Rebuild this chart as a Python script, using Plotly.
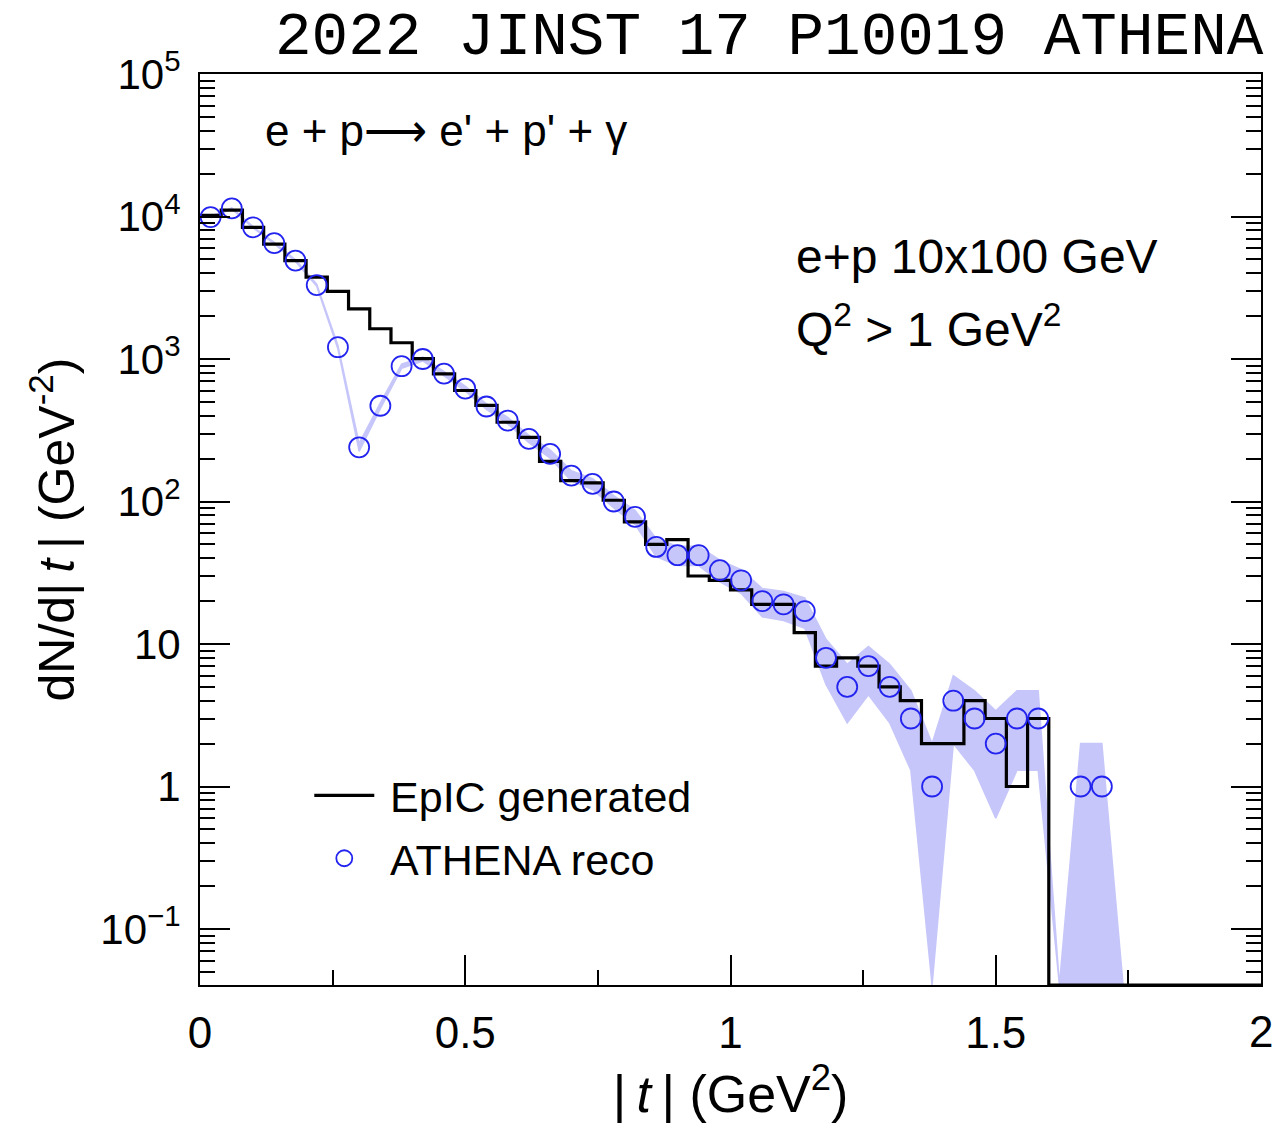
import numpy as np
import plotly.graph_objects as go

# |t| binning: 50 bins of 0.04 GeV^2 from 0 to 2
t_edges = np.round(np.linspace(0.0, 2.0, 51), 2)
t_centers = np.round(0.5 * (t_edges[:-1] + t_edges[1:]), 2)

# EpIC generated counts per bin
gen_counts = [10200, 11100, 8400, 6400, 4900, 3750, 2980, 2250, 1630, 1300,
              1005, 787, 601, 472, 360, 282, 191, 140, 135, 102,
              72, 50, 54, 30, 28, 24, 19, 19, 12, 7,
              8, 7, 5, 4, 2, 2, 4, 3, 1, 3,
              0, 0, 0, 0, 0, 0, 0, 0, 0, 0]

# ATHENA reconstructed counts per bin
reco_counts = [9900, 11400, 8400, 6500, 4900, 3300, 1210, 240, 470, 890,
               1000, 790, 620, 464, 370, 275, 216, 152, 133, 100,
               78, 48, 42, 42, 33, 28, 20, 19, 17, 8,
               5, 7, 5, 3, 1, 4, 3, 2, 3, 3,
               0, 1, 1, 0, 0, 0, 0, 0, 0, 0]

# statistical uncertainty on the reconstructed counts
reco_err = [99, 107, 92, 81, 70, 57, 35, 15.5, 21.7, 29.8,
            31.6, 28.1, 24.9, 21.5, 19.2, 16.6, 14.7, 12.3, 11.5, 10.0,
            8.8, 6.9, 6.5, 6.5, 5.7, 5.3, 4.5, 4.4, 4.1, 2.8,
            2.2, 2.6, 2.2, 1.7, 1.0, 2.0, 1.7, 1.4, 1.7, 1.7,
            0, 1.0, 1.0, 0, 0, 0, 0, 0, 0, 0]

y_ticks = [0.1, 1, 10, 100, 1e3, 1e4, 1e5]
y_tick_text = ["10<sup>\u22121</sup>", "1", "10", "10<sup>2</sup>",
               "10<sup>3</sup>", "10<sup>4</sup>", "10<sup>5</sup>"]
x_ticks = [0, 0.5, 1, 1.5, 2]
x_tick_text = ["0", "0.5", "1", "1.5", "2"]

LOG_YMIN, LOG_YMAX = -1.393, 5.0
Y_FLOOR = 10 ** LOG_YMIN   # empty bins sit on the frame bottom

gen = np.array(gen_counts, dtype=float)
reco = np.array(reco_counts, dtype=float)
err = np.array(reco_err, dtype=float)

# uncertainty band (drawn through bin centres)
band_hi = np.maximum(reco + err, Y_FLOOR)
band_lo = np.where(reco - err > 0, reco - err, Y_FLOOR)
band_lo = np.maximum(band_lo, Y_FLOOR)

BAND = "rgb(198,198,250)"
BLUE = "rgb(35,35,240)"
FONT = "Liberation Sans, Arial, sans-serif"
TS = "\u2009"  # thin space around the italic t

fig = go.Figure()

fig.add_trace(go.Scatter(
    x=np.concatenate([t_centers, t_centers[::-1]]),
    y=np.concatenate([band_hi, band_lo[::-1]]),
    fill="toself", fillcolor=BAND, mode="lines",
    line=dict(color=BAND, width=1.5),
    showlegend=False, hoverinfo="skip"))

gen_step = np.maximum(np.append(gen, gen[-1]), Y_FLOOR)
fig.add_trace(go.Scatter(
    x=t_edges, y=gen_step, mode="lines", line_shape="hv",
    line=dict(color="black", width=3.2),
    name="\u2005EpIC generated", legendgroup="gen"))

mask = reco > 0
fig.add_trace(go.Scatter(
    x=t_centers[mask], y=reco[mask], mode="markers",
    marker=dict(symbol="circle-open", size=20, color=BLUE,
                line=dict(width=1.8, color=BLUE)),
    name="\u2005ATHENA reco", legendgroup="reco"))

minor_y = [m * 10.0 ** e for e in range(-2, 5) for m in range(2, 10)
           if LOG_YMIN < np.log10(m * 10.0 ** e) < LOG_YMAX]

fig.update_layout(
    width=1272, height=1131,
    margin=dict(l=200, r=9, t=74, b=146),
    paper_bgcolor="white", plot_bgcolor="white",
    font=dict(family=FONT, color="black", size=40),
    legend=dict(x=0.103, y=0.246, xanchor="left", yanchor="top",
                bgcolor="rgba(0,0,0,0)", font=dict(size=43),
                itemwidth=60, tracegroupgap=4, traceorder="grouped"),
    xaxis=dict(range=[0, 2], tickvals=x_ticks, ticktext=x_tick_text,
               ticks="inside", ticklen=30, tickwidth=2, tickcolor="black",
               minor=dict(tickvals=[0.25, 0.75, 1.25, 1.75], ticks="inside",
                          ticklen=15, tickwidth=2, tickcolor="black"),
               showline=True, linewidth=2, linecolor="black", mirror=True,
               showgrid=False, zeroline=False,
               tickfont=dict(size=44), ticklabelstandoff=8,
               title=dict(text="|" + TS + "<i>t</i>" + TS + "| (GeV<sup>2</sup>)",
                          font=dict(size=52), standoff=14)),
    yaxis=dict(type="log", range=[LOG_YMIN, LOG_YMAX],
               tickvals=y_ticks, ticktext=y_tick_text,
               ticks="inside", ticklen=30, tickwidth=2, tickcolor="black",
               minor=dict(tickvals=minor_y, ticks="inside", ticklen=15,
                          tickwidth=2, tickcolor="black"),
               showline=True, linewidth=2, linecolor="black", mirror="ticks",
               showgrid=False, zeroline=False,
               tickfont=dict(size=42), ticklabelstandoff=9,
               title=dict(text="dN/d|" + TS + "<i>t</i>" + TS + "| (GeV<sup>-2</sup>)",
                          font=dict(size=50), standoff=10)),
)

# the last x label sits on the page edge
fig.add_annotation(text="2", xref="x", yref="paper", x=2.0, y=-0.0215,
                   xanchor="center", yanchor="top", showarrow=False,
                   font=dict(size=44))

fig.add_annotation(text="2022 JINST 17 P10019 ATHENA",
                   xref="paper", yref="paper", x=1.0047, y=1.0406,
                   xanchor="right", yanchor="middle", showarrow=False,
                   font=dict(family="Liberation Mono, Courier New, monospace",
                             size=61, color="black"))

fig.add_annotation(text="e + p\u27f6 e' + p' + \u03b3",
                   xref="paper", yref="paper", x=0.059, y=0.938,
                   xanchor="left", yanchor="middle", showarrow=False,
                   font=dict(size=44))
fig.add_annotation(text="e+p 10x100 GeV",
                   xref="paper", yref="paper", x=0.560, y=0.800,
                   xanchor="left", yanchor="middle", showarrow=False,
                   font=dict(size=48))
fig.add_annotation(text="Q<sup>2</sup> > 1 GeV<sup>2</sup>",
                   xref="paper", yref="paper", x=0.560, y=0.723,
                   xanchor="left", yanchor="middle", showarrow=False,
                   font=dict(size=48))

fig.write_html("out.html")
